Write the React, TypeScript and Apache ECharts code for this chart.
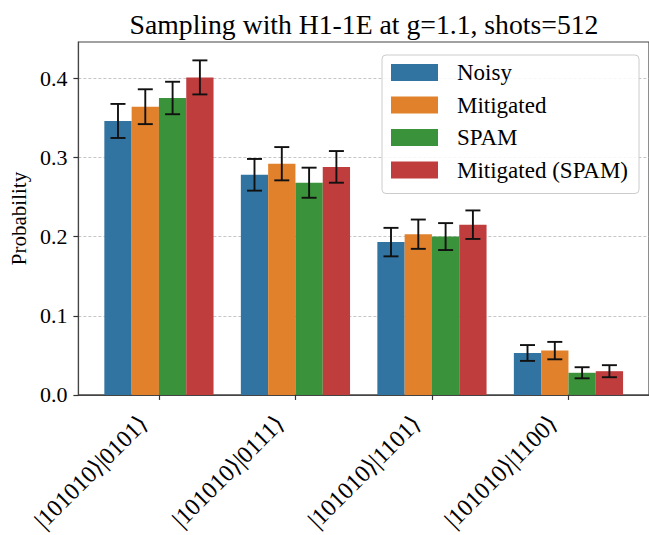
import React, { useEffect, useRef } from "react";
import * as echarts from "echarts";

const categories = ["|101010⟩|0101⟩", "|101010⟩|0111⟩", "|101010⟩|1101⟩", "|101010⟩|1100⟩"];
const seriesNames = ["Noisy", "Mitigated", "SPAM", "Mitigated (SPAM)"];
const noisy = [0.346, 0.278, 0.193, 0.053];
const mitigated = [0.364, 0.292, 0.203, 0.056];
const spam = [0.375, 0.268, 0.2, 0.028];
const mitigatedSpam = [0.401, 0.288, 0.215, 0.03];
const noisyErr = [0.0215, 0.02, 0.018, 0.01];
const mitigatedErr = [0.022, 0.021, 0.0185, 0.011];
const spamErr = [0.0205, 0.019, 0.017, 0.007];
const mitigatedSpamErr = [0.0215, 0.02, 0.018, 0.0076];
const yTicks = [0, 0.1, 0.2, 0.3, 0.4];

const colors = ["#3274A1", "#E1812C", "#3A923A", "#C03D3E"];
const FONT = "'Liberation Serif', 'DejaVu Serif', serif";

export default function App() {
  const ref = useRef<HTMLDivElement>(null);
  useEffect(() => {
    if (!ref.current) return;
    const chart = echarts.init(ref.current, null, { renderer: "svg" });
    const values = [noisy, mitigated, spam, mitigatedSpam];
    const errs = [noisyErr, mitigatedErr, spamErr, mitigatedSpamErr];
    const barW = 0.2;
    const series = seriesNames.map((name, si) => ({
      name,
      type: "custom",
      color: colors[si],
      itemStyle: { color: colors[si] },
      data: values[si].map((v, ci) => [ci + (si - 1.5) * barW, v, errs[si][ci]]),
      encode: { x: 0, y: 1 },
      renderItem: (params: any, api: any) => {
        const x = api.value(0);
        const v = api.value(1);
        const e = api.value(2);
        const top = api.coord([x, v]);
        const base = api.coord([x, 0]);
        const w = api.size([barW, 0])[0];
        const hi = api.coord([x, v + e]);
        const lo = api.coord([x, v - e]);
        const cap = 7.5;
        return {
          type: "group",
          children: [
            {
              type: "rect",
              shape: { x: top[0] - w / 2, y: top[1], width: w, height: base[1] - top[1] },
              style: { fill: colors[si] },
            },
            {
              type: "line",
              shape: { x1: hi[0], y1: hi[1], x2: lo[0], y2: lo[1] },
              style: { stroke: "#111", lineWidth: 1.9 },
            },
            {
              type: "line",
              shape: { x1: hi[0] - cap, y1: hi[1], x2: hi[0] + cap, y2: hi[1] },
              style: { stroke: "#111", lineWidth: 1.9 },
            },
            {
              type: "line",
              shape: { x1: lo[0] - cap, y1: lo[1], x2: lo[0] + cap, y2: lo[1] },
              style: { stroke: "#111", lineWidth: 1.9 },
            },
          ],
        };
      },
    }));
    chart.setOption({
      animation: false,
      title: {
        text: "Sampling with H1-1E at g=1.1, shots=512",
        left: 359,
        textAlign: "center",
        top: 5,
        textStyle: { fontFamily: FONT, fontSize: 27.7, fontWeight: "normal", color: "#000" },
      },
      legend: {
        orient: "vertical",
        left: 382,
        top: 55,
        padding: [6, 11, 12, 9],
        itemWidth: 47,
        itemHeight: 17,
        itemGap: 9.5,
        icon: "rect",
        backgroundColor: "rgba(255,255,255,0.85)",
        borderColor: "#cccccc",
        borderWidth: 1,
        borderRadius: 4,
        data: seriesNames.map((n, i) => ({ name: n, itemStyle: { color: colors[i] } })),
        textStyle: {
          fontFamily: FONT,
          fontSize: 23,
          color: "#000",
          padding: [0, 0, 0, 14],
        },
      },
      grid: {
        left: 77,
        top: 42,
        width: 574,
        height: 353,
        show: true,
        borderColor: "#444",
        borderWidth: 1.2,
        backgroundColor: "transparent",
      },
      xAxis: {
        type: "value",
        min: -0.59,
        max: 3.59,
        splitLine: { show: false },
        axisLine: { show: true, onZero: false, lineStyle: { color: "#444", width: 1.2 } },
        axisTick: {
          show: true,
          customValues: [0, 1, 2, 3],
          length: 5,
          lineStyle: { color: "#333", width: 1.2 },
        },
        axisLabel: {
          customValues: [0, 1, 2, 3],
          formatter: (v: number) => categories[Math.round(v)] ?? "",
          rotate: 45,
          fontFamily: FONT,
          fontSize: 24,
          color: "#000",
          margin: 9,
          padding: [0, 22, 0, 0],
        },
      },
      yAxis: {
        type: "value",
        min: 0,
        max: 0.4457,
        interval: 0.1,
        name: "Probability",
        nameLocation: "middle",
        nameGap: 47,
        nameRotate: 90,
        nameTextStyle: { fontFamily: FONT, fontSize: 21, color: "#000" },
        axisLine: { show: true, onZero: false, lineStyle: { color: "#444", width: 1.2 } },
        axisTick: {
          show: true,
          customValues: yTicks,
          length: 5,
          lineStyle: { color: "#333", width: 1.2 },
        },
        axisLabel: {
          customValues: yTicks,
          formatter: (v: number) => v.toFixed(1),
          fontFamily: FONT,
          fontSize: 22,
          color: "#000",
          margin: 11,
        },
        splitLine: {
          show: true,
          lineStyle: { color: "#b8b8b8", type: [3, 2], width: 0.8 },
        },
      },
      series,
    });
    return () => chart.dispose();
  }, []);
  return (
    <div
      ref={ref}
      style={{ position: "fixed", left: 0, top: 0, width: 649, height: 535, background: "#fff" }}
    />
  );
}
